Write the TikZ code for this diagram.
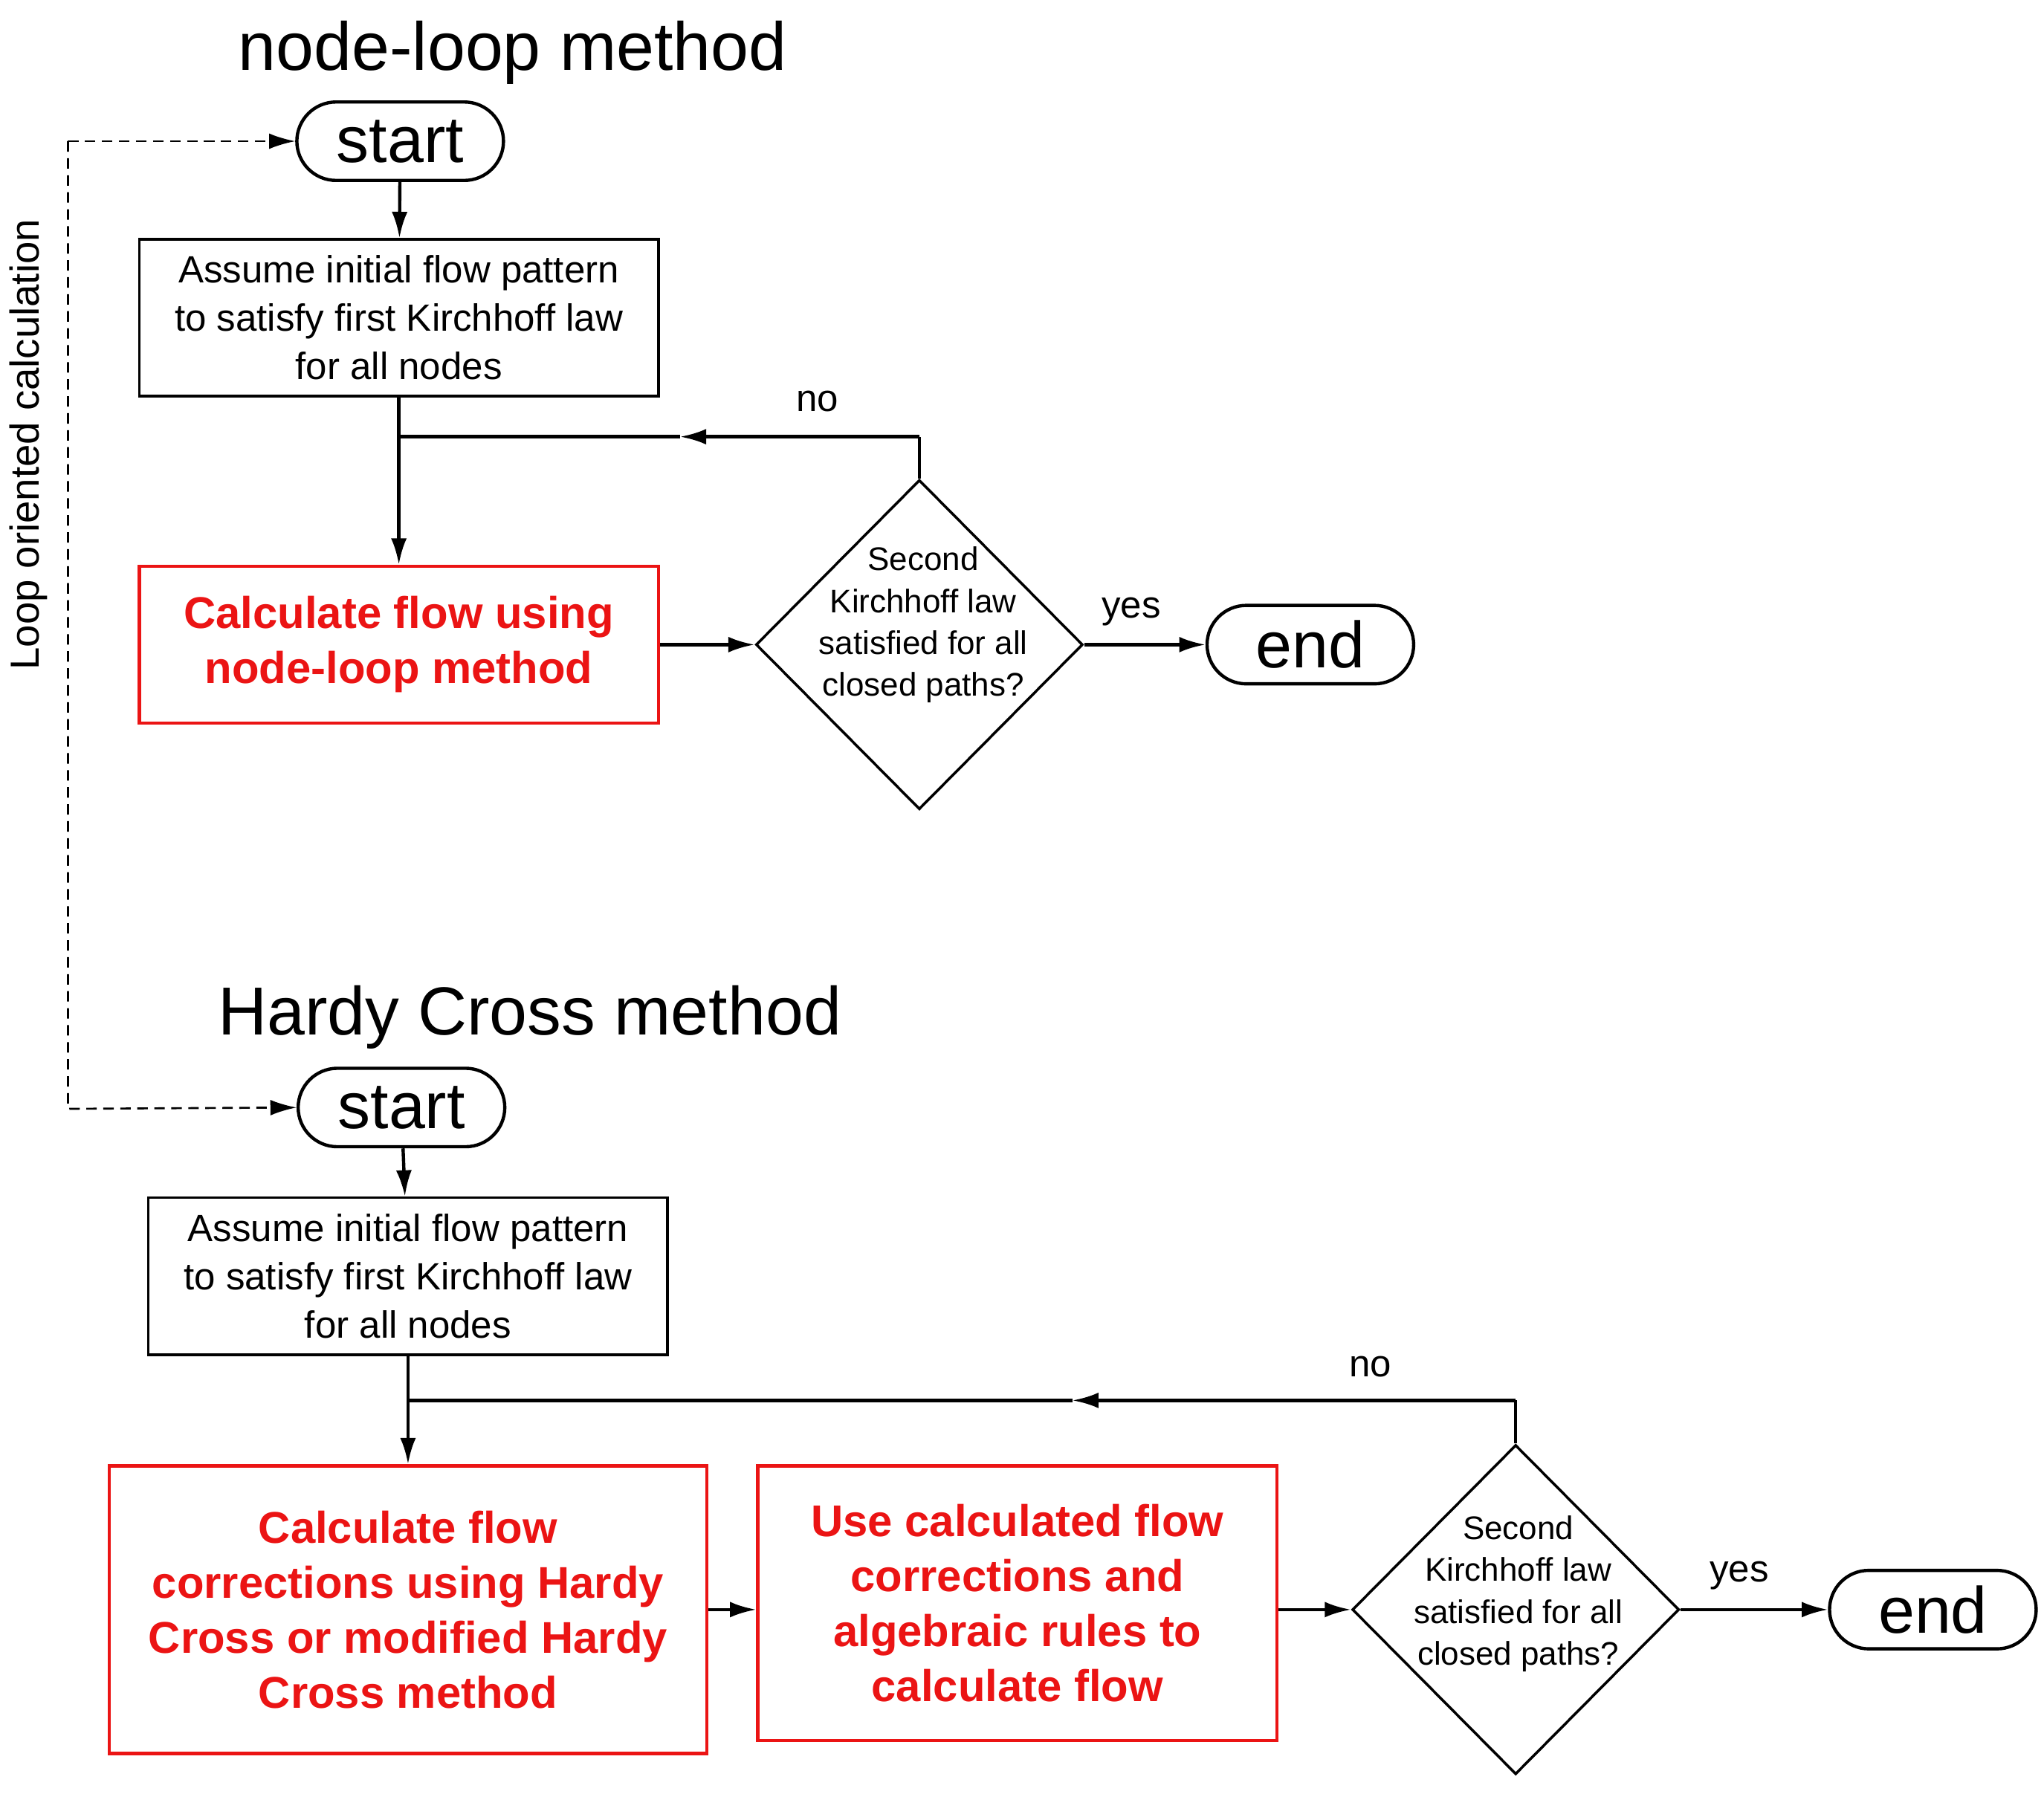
\documentclass[tikz,border=0pt]{standalone}
\usepackage{fontspec}
\setmainfont{Liberation Sans}
\usetikzlibrary{shapes.geometric,shapes.misc,arrows.meta}
\definecolor{cred}{RGB}{235,20,20}
\begin{document}
\begin{tikzpicture}[x=1pt,y=-1pt,
  every node/.style={font=\fontsize{29}{37}\selectfont},
  term/.style={rounded rectangle,draw,line width=2.5pt,minimum width=158pt,minimum height=60pt,inner sep=0pt,font=\fontsize{50}{50}\selectfont},
  box/.style={draw,line width=2pt,minimum width=397pt,minimum height=120pt,align=center,inner sep=2pt},
  rbox/.style={draw=cred,line width=2.5pt,text=cred,align=center,font=\fontsize{34}{42}\selectfont\bfseries,inner sep=2pt},
  dia/.style={diamond,draw,line width=2pt,minimum width=250pt,minimum height=252pt,inner sep=0pt,align=center,font=\fontsize{25}{32}\selectfont},
  dtext/.style={align=center,font=\fontsize{25}{32}\selectfont},
  ln/.style={line width=2.5pt},
  arr/.style={ln,-{Latex[length=20pt,width=12pt]}},
  title/.style={font=\fontsize{52}{52}\selectfont}]
\useasboundingbox (0,0) rectangle (1563,1372);
% top
\node[title] (t1) at (392,40) {node-loop method};
\node[term] (s1) at (306,108) {start};
\node[box] (b1) at (305,243) {Assume initial flow pattern\\to satisfy first Kirchhoff law\\for all nodes};
\node[rbox,minimum width=397pt,minimum height=120pt] (b2) at (305,493) {Calculate flow using\\node-loop method};
\node[dia] (d1) at (703,493) {};
\node[dtext] (dt1) at (706,478) {Second\\Kirchhoff law\\satisfied for all\\closed paths?};
\node[term] (e1) at (1002,493) {end};
\coordinate (k1) at (703,334);
\coordinate (m1) at (520,334);
\coordinate (j1) at (306,334);
\draw[arr] (s1) -- (b1);
\draw[arr] (b1.south) -- (b2.north);
\draw[ln] (d1.north) -- (k1);
\draw[arr] (k1) -- (m1);
\draw[ln] (m1) -- (j1);
\draw[arr] (b2) -- (d1);
\draw[arr] (d1) -- (e1);
\node (no1) at (625,307) {no};
\node (yes1) at (865,468) {yes};
% bottom
\node[title] (t2) at (405,778) {Hardy Cross method};
\node[term] (s2) at (307,847) {start};
\node[box] (b3) at (312,976) {Assume initial flow pattern\\to satisfy first Kirchhoff law\\for all nodes};
\node[rbox,minimum width=457pt,minimum height=220pt] (b4) at (312,1231) {Calculate flow\\corrections using Hardy\\Cross or modified Hardy\\Cross method};
\node[rbox,minimum width=397pt,minimum height=210pt] (b5) at (778,1226) {Use calculated flow\\corrections and\\algebraic rules to\\calculate flow};
\node[dia] (d2) at (1159,1231) {};
\node[dtext] (dt2) at (1161,1219) {Second\\Kirchhoff law\\satisfied for all\\closed paths?};
\node[term] (e2) at (1478,1231) {end};
\coordinate (k2) at (1159,1071);
\coordinate (m2) at (820,1071);
\coordinate (j2) at (313,1071);
\draw[arr] (s2) -- (b3);
\draw[arr] (b3.south) -- (b4.north);
\draw[ln] (d2.north) -- (k2);
\draw[arr] (k2) -- (m2);
\draw[ln] (m2) -- (j2);
\draw[arr] (b4.east |- 0,1231) -- (b5.west |- 0,1231);
\draw[arr] (b5.east |- 0,1231) -- (d2);
\draw[arr] (d2) -- (e2);
\node (no2) at (1048,1045) {no};
\node (yes2) at (1330,1205) {yes};
% dashed
\coordinate (c1) at (52,108);
\coordinate (c2) at (52,848);
\draw[line width=1.5pt,dash pattern=on 8pt off 5pt,-{Latex[length=20pt,width=12pt]}] (c1) -- (s1.west);
\draw[line width=1.5pt,dash pattern=on 8pt off 5pt,-{Latex[length=20pt,width=12pt]}] (c1) -- (c2) -- (s2.west);
\node[rotate=90,font=\fontsize{31}{32}\selectfont] (lbl) at (22,340) {Loop oriented calculation};
\end{tikzpicture}
\end{document}
